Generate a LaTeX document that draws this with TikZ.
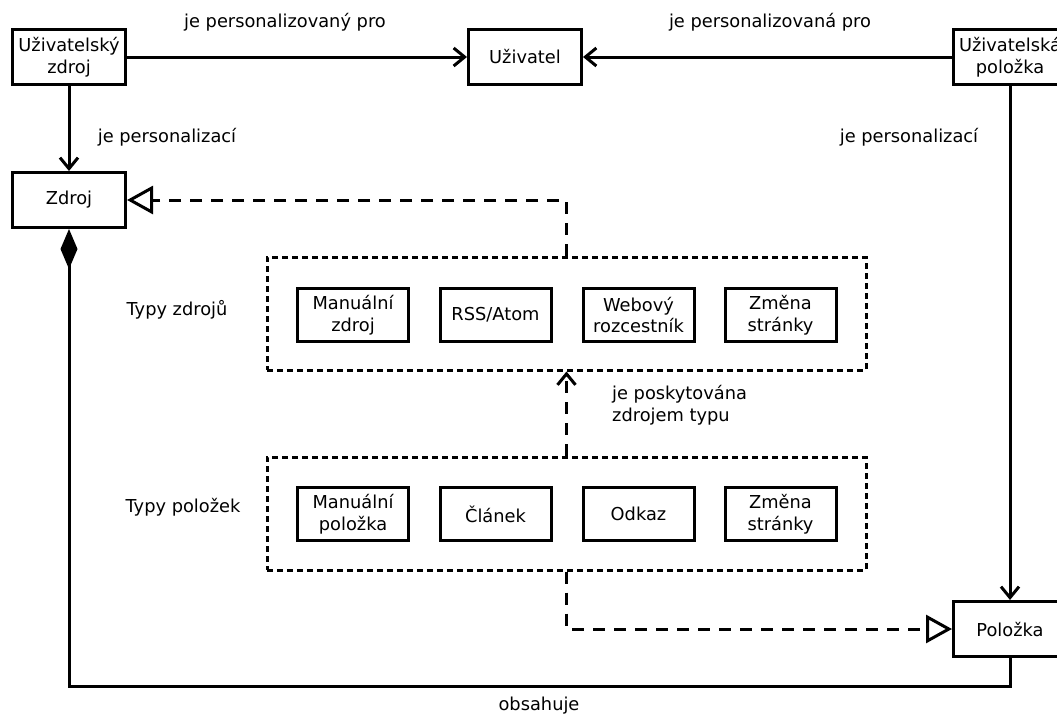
\documentclass[tikz,border=0pt]{standalone}
\usepackage{fontspec}
\setmainfont{DejaVu Sans}
\usetikzlibrary{arrows.meta}
\begin{document}
\begin{tikzpicture}[x=1pt,y=-1pt,
  every node/.style={font=\fontsize{17.8}{21.5}\selectfont, align=center},
  box/.style={draw, line width=3pt, minimum width=113pt, minimum height=55pt, inner sep=0pt},
  small/.style={draw, line width=3pt, minimum width=111pt, minimum height=53pt, inner sep=0pt},
  group/.style={draw, line width=3pt, dash pattern=on 6pt off 4pt, minimum width=599pt, minimum height=113pt, inner sep=0pt},
  assoc/.style={line width=3pt, -{Straight Barb[length=11pt,width=18pt,line width=3pt]}},
  inherit/.style={line width=3pt, dash pattern=on 12pt off 9pt, -{Triangle[open,length=26pt,width=28pt,line width=3pt]}},
  depend/.style={line width=3pt, dash pattern=on 12pt off 9pt, -{Straight Barb[length=11pt,width=18pt,line width=3pt]}},
  compose/.style={line width=3pt, -{Diamond[length=40pt,width=17pt]}},
  lbl/.style={inner sep=0pt}
]
\useasboundingbox (0,0) rectangle (1057,715);
\clip (0,0) rectangle (1057,715);

% top row
\node[box] (uz) at (69,57) {Uživatelský\\zdroj};
\node[box] (user) at (525,57) {Uživatel};
\node[box] (up) at (1010,57) {Uživatelská\\položka};

% source and item
\node[box] (zdroj) at (69,200) {Zdroj};
\node[box] (pol) at (1010,629) {Položka};

% groups of types
\node[group] (tz) at (566.5,313.5) {};
\node[group] (tp) at (566.5,513.5) {};

\node[small] (s1) at (353,315) {Manuální\\zdroj};
\node[small] (s2) at (495.5,315) {RSS/Atom};
\node[small] (s3) at (638.5,315) {Webový\\rozcestník};
\node[small] (s4) at (780.5,315) {Změna\\stránky};

\node[small] (p1) at (353,514) {Manuální\\položka};
\node[small] (p2) at (495.5,514) {Článek};
\node[small] (p3) at (638.5,514) {Odkaz};
\node[small] (p4) at (780.5,514) {Změna\\stránky};

% labels
\node[lbl] (l1) at (285,22) {je personalizovaný pro};
\node[lbl] (l2) at (770,22) {je personalizovaná pro};
\node[lbl] (l3) at (167,137) {je personalizací};
\node[lbl] (l4) at (909,137) {je personalizací};
\node[lbl] (l5) at (177,310) {Typy zdrojů};
\node[lbl] (l6) at (183,507) {Typy položek};
\node[lbl, anchor=west, align=left] (l7) at (612,405) {je poskytována\\zdrojem typu};
\node[lbl] (l8) at (539,706) {obsahuje};

% connectors
\draw[assoc] (uz.east) -- (user.west);
\draw[assoc] (up.west) -- (user.east);
\draw[assoc] (uz.south) -- (zdroj.north);
\draw[assoc] (up.south) -- (pol.north);
\draw[inherit] (tz.north) |- (zdroj.east);
\draw[depend] (tp.north) -- (tz.south);
\draw[inherit] (tp.south) |- (pol.west);
\coordinate (c1) at (1010,686);
\coordinate (c2) at (69,686);
\draw[compose] (pol.south) -- (c1) -- (c2) -- (zdroj.south);
\end{tikzpicture}
\end{document}
